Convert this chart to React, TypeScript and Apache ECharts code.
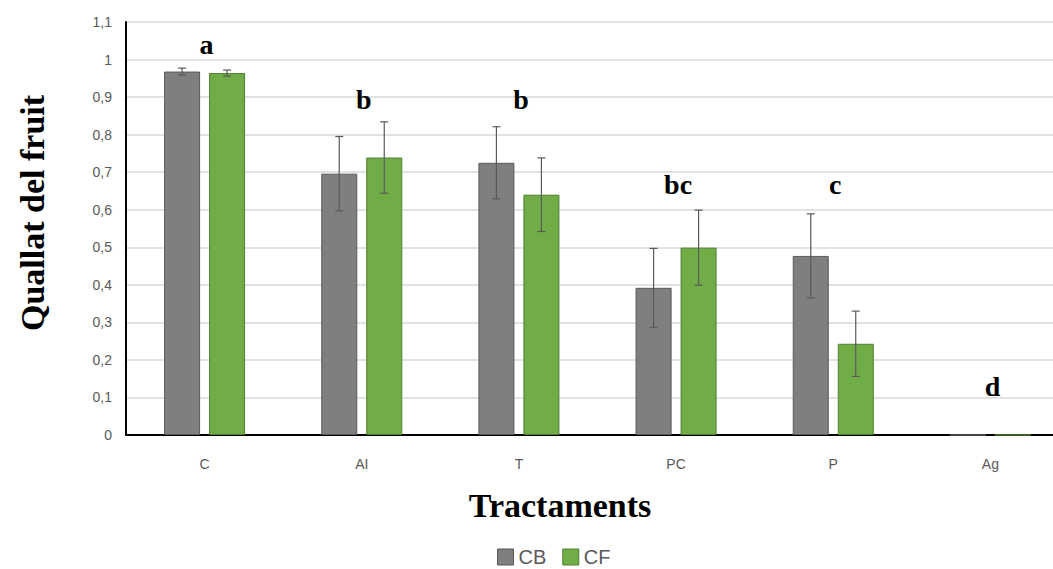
import React, { useEffect, useRef } from "react";
import * as echarts from "echarts";

const categories = ["C", "AI", "T", "PC", "P", "Ag"];
const cbValues = [0.968, 0.696, 0.725, 0.392, 0.477, 0];
const cfValues = [0.964, 0.739, 0.64, 0.499, 0.243, 0];
const cbErrors = [0.009, 0.099, 0.096, 0.105, 0.112, 0];
const cfErrors = [0.008, 0.095, 0.098, 0.1, 0.087, 0];
const letters = ["a", "b", "b", "bc", "c", "d"];
const letterY = [1.04, 0.893, 0.893, 0.667, 0.667, 0.128];

const GRAY = "#7f7f7f";
const GREEN = "#70ad47";

function errorSeries(values: number[], errors: number[], offset: number) {
  return {
    type: "custom",
    silent: true,
    z: 5,
    data: values.map((v, i) => [i, v, errors[i]]),
    renderItem: (params: any, api: any) => {
      const i = api.value(0);
      const v = api.value(1);
      const e = api.value(2);
      if (!e) return null;
      const top = api.coord([i, v + e]);
      const bot = api.coord([i, v - e]);
      const x = top[0] + offset;
      const cap = 4;
      const style = { stroke: "#595959", lineWidth: 1.2 };
      return {
        type: "group",
        children: [
          { type: "line", shape: { x1: x, y1: top[1], x2: x, y2: bot[1] }, style },
          { type: "line", shape: { x1: x - cap, y1: top[1], x2: x + cap, y2: top[1] }, style },
          { type: "line", shape: { x1: x - cap, y1: bot[1], x2: x + cap, y2: bot[1] }, style },
        ],
      };
    },
  };
}

export default function App() {
  const ref = useRef<HTMLDivElement>(null);
  useEffect(() => {
    if (!ref.current) return;
    const chart = echarts.init(ref.current, null, { renderer: "svg" });
    chart.setOption({
      animation: false,
      grid: { left: 126, top: 22, width: 943, bottom: 134 },
      legend: {
        bottom: 2,
        left: 497,
        icon: "rect",
        itemWidth: 16,
        itemHeight: 16,
        itemGap: 16,
        padding: 0,
        textStyle: { color: "#595959", fontSize: 20, fontFamily: "Liberation Sans" },
        data: [
          { name: "CB", itemStyle: { color: GRAY, borderColor: "#595959", borderWidth: 1 } },
          { name: "CF", itemStyle: { color: GREEN, borderColor: "#507e32", borderWidth: 1 } },
        ],
      },
      graphic: [
        {
          type: "text",
          x: 560,
          y: 505,
          style: {
            text: "Tractaments",
            fontFamily: "Liberation Serif",
            fontWeight: "bold",
            fontSize: 34,
            fill: "#000",
            align: "center",
            verticalAlign: "middle",
          },
        },
        {
          type: "text",
          x: 32,
          y: 213,
          rotation: Math.PI / 2,
          style: {
            text: "Quallat del fruit",
            fontFamily: "Liberation Serif",
            fontWeight: "bold",
            fontSize: 34,
            fill: "#000",
            align: "center",
            verticalAlign: "middle",
          },
        },
      ],
      xAxis: {
        type: "category",
        data: categories,
        axisLine: { lineStyle: { color: "#000", width: 2 } },
        axisTick: { show: false },
        axisLabel: { color: "#595959", fontSize: 14, margin: 22, fontFamily: "Liberation Sans" },
      },
      yAxis: {
        type: "value",
        min: 0,
        max: 1.1,
        interval: 0.1,
        axisLine: { show: true, lineStyle: { color: "#000", width: 2 } },
        axisTick: { show: false },
        splitLine: { lineStyle: { color: "#d9d9d9", width: 1.5 } },
        axisLabel: {
          color: "#595959",
          fontSize: 14,
          margin: 14,
          fontFamily: "Liberation Sans",
          formatter: (v: number) => String(Math.round(v * 10) / 10).replace(".", ","),
        },
      },
      series: [
        {
          name: "CB",
          type: "bar",
          data: cbValues,
          barWidth: 36,
          barGap: "25%",
          itemStyle: { color: GRAY, borderColor: "#595959", borderWidth: 1 },
        },
        {
          name: "CF",
          type: "bar",
          data: cfValues,
          barWidth: 36,
          barGap: "25%",
          itemStyle: { color: GREEN, borderColor: "#507e32", borderWidth: 1 },
        },
        errorSeries(cbValues, cbErrors, -22.5),
        errorSeries(cfValues, cfErrors, 22.5),
        {
          type: "custom",
          silent: true,
          z: 6,
          data: letterY.map((y, i) => [i, y, letters[i]]),
          renderItem: (params: any, api: any) => {
            const i = api.value(0);
            const y = api.value(1);
            const p = api.coord([i, y]);
            return {
              type: "text",
              x: p[0] + 2,
              y: p[1],
              style: {
                text: letters[i],
                fontFamily: "Liberation Serif",
                fontWeight: "bold",
                fontSize: 28,
                fill: "#000",
                align: "center",
                verticalAlign: "middle",
              },
            };
          },
        },
      ],
    });
    return () => chart.dispose();
  }, []);
  return (
    <div
      style={{
        position: "absolute",
        left: 0,
        top: 0,
        width: 1053,
        height: 569,
        overflow: "hidden",
        background: "#fff",
      }}
    >
      <div ref={ref} style={{ width: 1080, height: 569 }} />
    </div>
  );
}
